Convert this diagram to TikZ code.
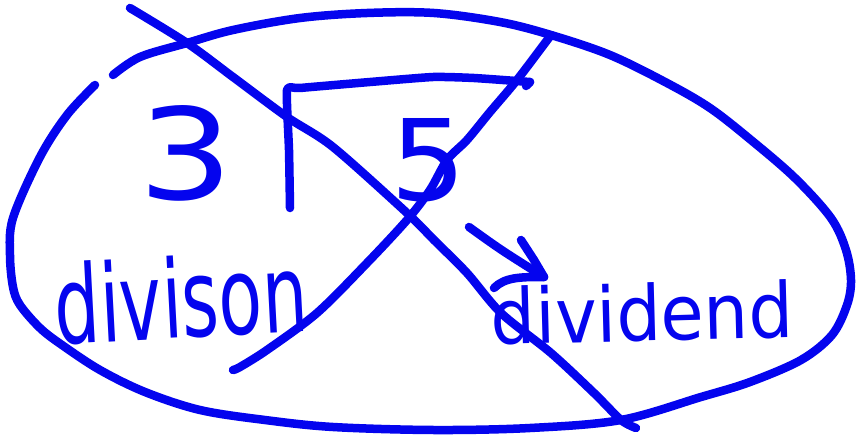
\documentclass[tikz,border=0pt]{standalone}
\usepackage{fontspec}
\setmainfont{DejaVu Sans}
\usepackage{graphicx}
\definecolor{pen}{RGB}{4,4,238}
\tikzset{
  ink/.style={draw=pen, line width=8.5pt, line cap=round, line join=round},
  hand/.style={text=pen, inner sep=0pt, outer sep=0pt}
}
\begin{document}
\begin{tikzpicture}[x=1pt,y=-1pt]
\fill[white] (0,0) rectangle (868,439);
\useasboundingbox (0,0) rectangle (868,439);
% hand-drawn ellipse
\draw[ink] plot[smooth,tension=0.55] coordinates {(113,75) (140,57) (187,43) (233,30) (300,18) (367,13) (434,13) (500,22) (551,35) (610,55) (667,83) (710,108) (751,140) (795,178) (831,218) (846,250) (851,280) (847,305) (832,335) (801,360) (750,382) (701,397) (621,420) (530,428) (434,430) (333,427) (265,420) (200,410) (145,392) (100,370) (62,345) (40,328) (20,305) (13,287) (10,255) (13,218) (40,157) (67,115) (95,85)};
% long diagonal stroke
\draw[ink] plot[smooth,tension=0.5] coordinates {(130,8) (187,43) (233,77) (287,117) (333,147) (407,213) (434,240) (467,273) (501,313) (551,353) (594,393) (621,420) (636,428)};
% second crossing stroke
\draw[ink] plot[smooth,tension=0.5] coordinates {(551,35) (517,80) (490,112) (467,140) (447,160) (430,190) (407,220) (367,263) (317,313) (267,350) (240,367) (233,370)};
% division bracket
\draw[ink] plot[smooth,tension=0.3] coordinates {(290,208) (289,150) (287,90) (300,88) (370,82) (433,77) (474,78) (530,82)};
\draw[ink] (530,82) -- (526,86);
% numbers
\node[hand, anchor=south west] (three) at (138,201) {\resizebox{95pt}{94pt}{3}};
\node[hand, anchor=south west] (five) at (390,202) {\resizebox{76pt}{82pt}{5}};
% arrow
\coordinate (atail) at (469,227);
\coordinate (atip) at (544,277);
\draw[ink] (atail) .. controls (501,250) .. (atip);
\draw[ink] (521,240) -- (534,260) -- (atip);
\draw[ink] (494,288) .. controls (505,277) and (521,277) .. (atip);
% words
\node[hand, anchor=south west, rotate=3] (divisor) at (57,346) {\resizebox{253pt}{82pt}{divison}};
\node[hand, anchor=south west, rotate=1.5] (dividend) at (492,346) {\resizebox{302pt}{58pt}{dividend}};
\end{tikzpicture}
\end{document}
